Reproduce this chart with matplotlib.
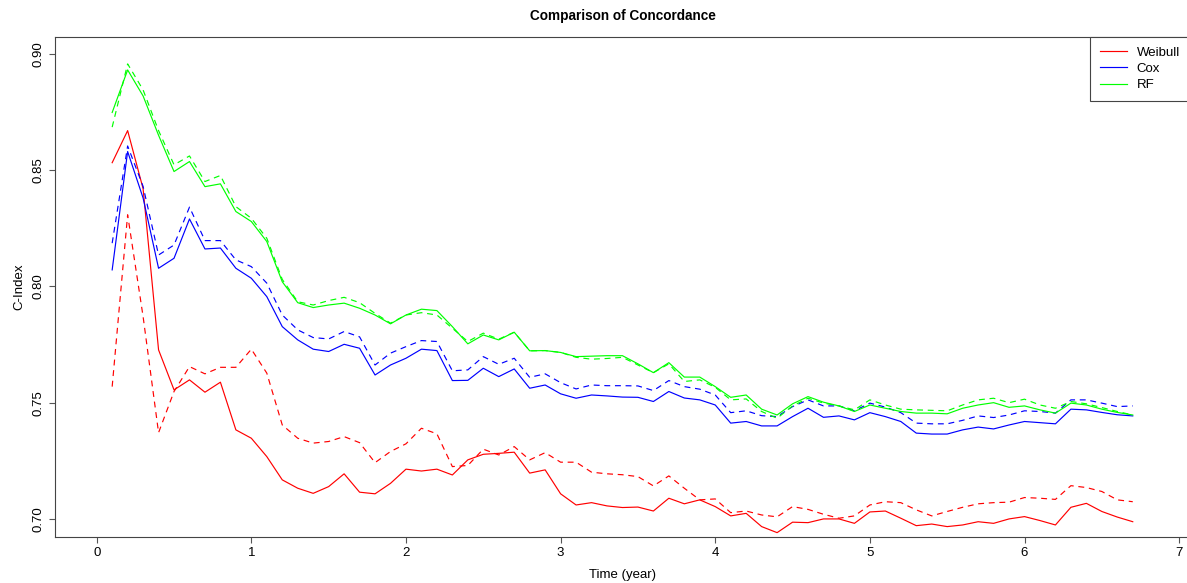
import numpy as np
import matplotlib
matplotlib.use("Agg")
import matplotlib.pyplot as plt

plt.rcParams['font.family'] = ['Liberation Sans', 'DejaVu Sans']

# time grid (years)
time = np.round(np.arange(1, 68) * 0.1, 1)

# C-index per model: solid and dashed curves
weibull_solid = [0.8532, 0.8670, 0.8420, 0.7727, 0.7555, 0.7598, 0.7545, 0.7588, 0.7383, 0.7347,
                 0.7268, 0.7168, 0.7132, 0.7110, 0.7139, 0.7194, 0.7115, 0.7108, 0.7153, 0.7214,
                 0.7206, 0.7214, 0.7189, 0.7254, 0.7278, 0.7282, 0.7287, 0.7197, 0.7211, 0.7108,
                 0.7060, 0.7070, 0.7056, 0.7049, 0.7051, 0.7034, 0.7089, 0.7065, 0.7082, 0.7053,
                 0.7013, 0.7024, 0.6967, 0.6941, 0.6986, 0.6984, 0.7000, 0.7000, 0.6981, 0.7030,
                 0.7034, 0.7003, 0.6971, 0.6978, 0.6967, 0.6974, 0.6988, 0.6981, 0.7000, 0.7010,
                 0.6993, 0.6974, 0.7050, 0.7067, 0.7032, 0.7008, 0.6988]
weibull_dashed = [0.7569, 0.8308, 0.7870, 0.7371, 0.7548, 0.7655, 0.7624, 0.7652, 0.7652, 0.7730,
                  0.7627, 0.7404, 0.7347, 0.7326, 0.7333, 0.7354, 0.7328, 0.7242, 0.7290, 0.7323,
                  0.7390, 0.7366, 0.7225, 0.7230, 0.7300, 0.7275, 0.7311, 0.7254, 0.7285, 0.7244,
                  0.7244, 0.7201, 0.7194, 0.7190, 0.7182, 0.7142, 0.7185, 0.7132, 0.7082, 0.7086,
                  0.7027, 0.7034, 0.7017, 0.7009, 0.7053, 0.7041, 0.7020, 0.7003, 0.7013, 0.7060,
                  0.7074, 0.7070, 0.7039, 0.7013, 0.7032, 0.7050, 0.7065, 0.7070, 0.7072, 0.7092,
                  0.7089, 0.7084, 0.7143, 0.7135, 0.7118, 0.7082, 0.7074]
cox_solid = [0.8071, 0.8580, 0.8380, 0.8078, 0.8121, 0.8290, 0.8161, 0.8165, 0.8078, 0.8035,
             0.7956, 0.7827, 0.7770, 0.7730, 0.7720, 0.7751, 0.7734, 0.7619, 0.7662, 0.7691,
             0.7730, 0.7724, 0.7595, 0.7596, 0.7648, 0.7612, 0.7645, 0.7562, 0.7576, 0.7538,
             0.7519, 0.7533, 0.7529, 0.7524, 0.7523, 0.7505, 0.7548, 0.7520, 0.7512, 0.7490,
             0.7412, 0.7419, 0.7400, 0.7400, 0.7440, 0.7476, 0.7437, 0.7443, 0.7426, 0.7457,
             0.7440, 0.7419, 0.7369, 0.7365, 0.7365, 0.7383, 0.7395, 0.7387, 0.7404, 0.7419,
             0.7414, 0.7409, 0.7472, 0.7469, 0.7458, 0.7448, 0.7443]
cox_dashed = [0.8186, 0.8604, 0.8430, 0.8135, 0.8178, 0.8341, 0.8197, 0.8197, 0.8114, 0.8085,
              0.8014, 0.7877, 0.7813, 0.7780, 0.7774, 0.7806, 0.7783, 0.7662, 0.7713, 0.7741,
              0.7767, 0.7763, 0.7637, 0.7641, 0.7698, 0.7665, 0.7691, 0.7609, 0.7624, 0.7586,
              0.7559, 0.7576, 0.7573, 0.7573, 0.7572, 0.7552, 0.7595, 0.7569, 0.7558, 0.7533,
              0.7457, 0.7465, 0.7444, 0.7440, 0.7483, 0.7512, 0.7486, 0.7486, 0.7465, 0.7498,
              0.7481, 0.7457, 0.7412, 0.7409, 0.7409, 0.7424, 0.7443, 0.7436, 0.7447, 0.7465,
              0.7462, 0.7455, 0.7512, 0.7512, 0.7498, 0.7483, 0.7486]
rf_solid = [0.8748, 0.8931, 0.8819, 0.8650, 0.8494, 0.8537, 0.8429, 0.8441, 0.8322, 0.8279,
            0.8193, 0.8020, 0.7930, 0.7909, 0.7920, 0.7928, 0.7906, 0.7877, 0.7839, 0.7877,
            0.7902, 0.7896, 0.7827, 0.7753, 0.7791, 0.7770, 0.7803, 0.7723, 0.7724, 0.7716,
            0.7698, 0.7700, 0.7702, 0.7702, 0.7667, 0.7629, 0.7672, 0.7610, 0.7610, 0.7569,
            0.7523, 0.7533, 0.7472, 0.7447, 0.7495, 0.7526, 0.7502, 0.7486, 0.7462, 0.7490,
            0.7476, 0.7462, 0.7455, 0.7455, 0.7452, 0.7476, 0.7490, 0.7500, 0.7480, 0.7486,
            0.7469, 0.7455, 0.7498, 0.7490, 0.7472, 0.7458, 0.7447]
rf_dashed = [0.8685, 0.8957, 0.8845, 0.8670, 0.8523, 0.8561, 0.8451, 0.8477, 0.8343, 0.8293,
             0.8207, 0.8030, 0.7934, 0.7920, 0.7939, 0.7953, 0.7930, 0.7884, 0.7842, 0.7877,
             0.7887, 0.7877, 0.7820, 0.7763, 0.7799, 0.7773, 0.7803, 0.7723, 0.7724, 0.7716,
             0.7695, 0.7687, 0.7690, 0.7695, 0.7662, 0.7629, 0.7667, 0.7591, 0.7598, 0.7566,
             0.7512, 0.7516, 0.7462, 0.7433, 0.7486, 0.7519, 0.7498, 0.7486, 0.7469, 0.7512,
             0.7490, 0.7472, 0.7469, 0.7467, 0.7465, 0.7490, 0.7512, 0.7519, 0.7500, 0.7515,
             0.7490, 0.7476, 0.7505, 0.7495, 0.7479, 0.7462, 0.7447]

models = ['Weibull', 'Cox', 'RF']
colors = ['#ff0000', '#0000ff', '#00ff00']
x_ticks = [0, 1, 2, 3, 4, 5, 6, 7]
y_ticks = [0.70, 0.75, 0.80, 0.85, 0.90]

fig = plt.figure(figsize=(11.87, 5.83), dpi=100)
ax = fig.add_axes([0.0463, 0.0784, 0.9562, 0.8587])

solids = [weibull_solid, cox_solid, rf_solid]
dashes = [weibull_dashed, cox_dashed, rf_dashed]
for name, col, s, d in zip(models, colors, solids, dashes):
    ax.plot(time, s, color=col, lw=0.85, label=name)
    ax.plot(time, d, color=col, lw=0.85, linestyle=(0, (5, 4)))

ax.set_xlim(-0.27, 7.07)
ax.set_ylim(0.6921, 0.9074)
ax.set_xticks(x_ticks)
ax.set_xticklabels([str(t) for t in x_ticks])
ax.set_yticks(y_ticks)
ax.set_yticklabels(['%.2f' % t for t in y_ticks], rotation=90, va='center')
ax.tick_params(direction='out', length=4.3, width=0.8, color='#555555',
               labelsize=9.5, pad=3)

for sp in ax.spines.values():
    sp.set_color('#444444')
    sp.set_linewidth(0.8)

ax.set_title('Comparison of Concordance', fontsize=9.8, fontweight='bold', pad=12)
ax.set_xlabel('Time (year)', fontsize=9.5, labelpad=7)
ax.set_ylabel('C-Index', fontsize=9.5, labelpad=5)

leg = ax.legend(loc='upper right', bbox_to_anchor=(1.0, 1.0), borderaxespad=0,
                fontsize=9.5, frameon=True, fancybox=False, framealpha=1,
                handlelength=2.05, handletextpad=0.75, labelspacing=0.3,
                borderpad=0.75)
leg.get_frame().set_edgecolor('#444444')
leg.get_frame().set_linewidth(0.8)

fig.savefig('out.png', dpi=100)
